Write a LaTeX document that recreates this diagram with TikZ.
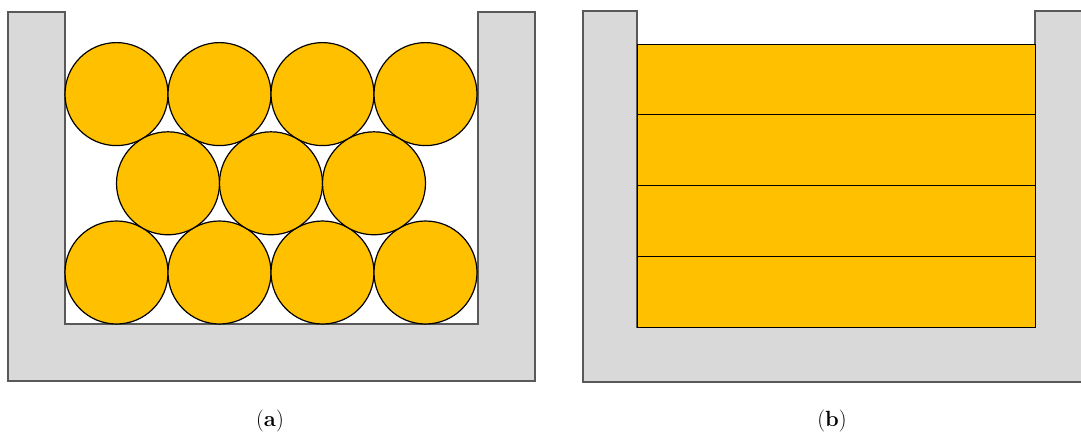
\documentclass[tikz,border=0pt]{standalone}
\usepackage{fontspec}
\usepackage{tikz}
\definecolor{Wall}{HTML}{D9D9D9}
\definecolor{WallLine}{HTML}{595959}
\definecolor{Gold}{HTML}{FFC000}

\begin{document}
\begin{tikzpicture}[x=1pt,y=-1pt,
    wall/.style={fill=Wall,draw=WallLine,line width=1.2pt},
    ball/.style={fill=Gold,draw=black,line width=1.2pt},
    layer/.style={fill=Gold,draw=black,line width=0.9pt},
    caption/.style={font=\fontsize{22}{26}\selectfont}]
        \useasboundingbox (0,0) rectangle (1081,434);
        % (a) packed spheres
        \draw[wall] (8,12) -- (65,12) -- (65,324) -- (478,324) -- (478,12) -- (535,12) -- (535,381) -- (8,381) -- cycle;
        \foreach \cx in {116.5,219.5,322.5,425.5} {
          \draw[ball] (\cx,272.5) circle (51.5);
          \draw[ball] (\cx,94.1) circle (51.5);
        }
        \foreach \cx in {168,271,374} \draw[ball] (\cx,183.3) circle (51.5);
        % (b) stacked layers
        \begin{scope}
          \clip (0,0) rectangle (1081,434);
          \draw[wall] (583,11) -- (637,11) -- (637,327) -- (1035,327) -- (1035,11) -- (1090,11) -- (1090,382) -- (583,382) -- cycle;
        \end{scope}
        \foreach \ty in {44,114.75,185.5,256.25} \draw[layer] (637,\ty) rectangle (1035,\ty+70.75);
        \node[caption] (capa) at (270,421) {(\textbf{a})};
        \node[caption] (capb) at (832,421) {(\textbf{b})};
      \end{tikzpicture}
\end{document}
